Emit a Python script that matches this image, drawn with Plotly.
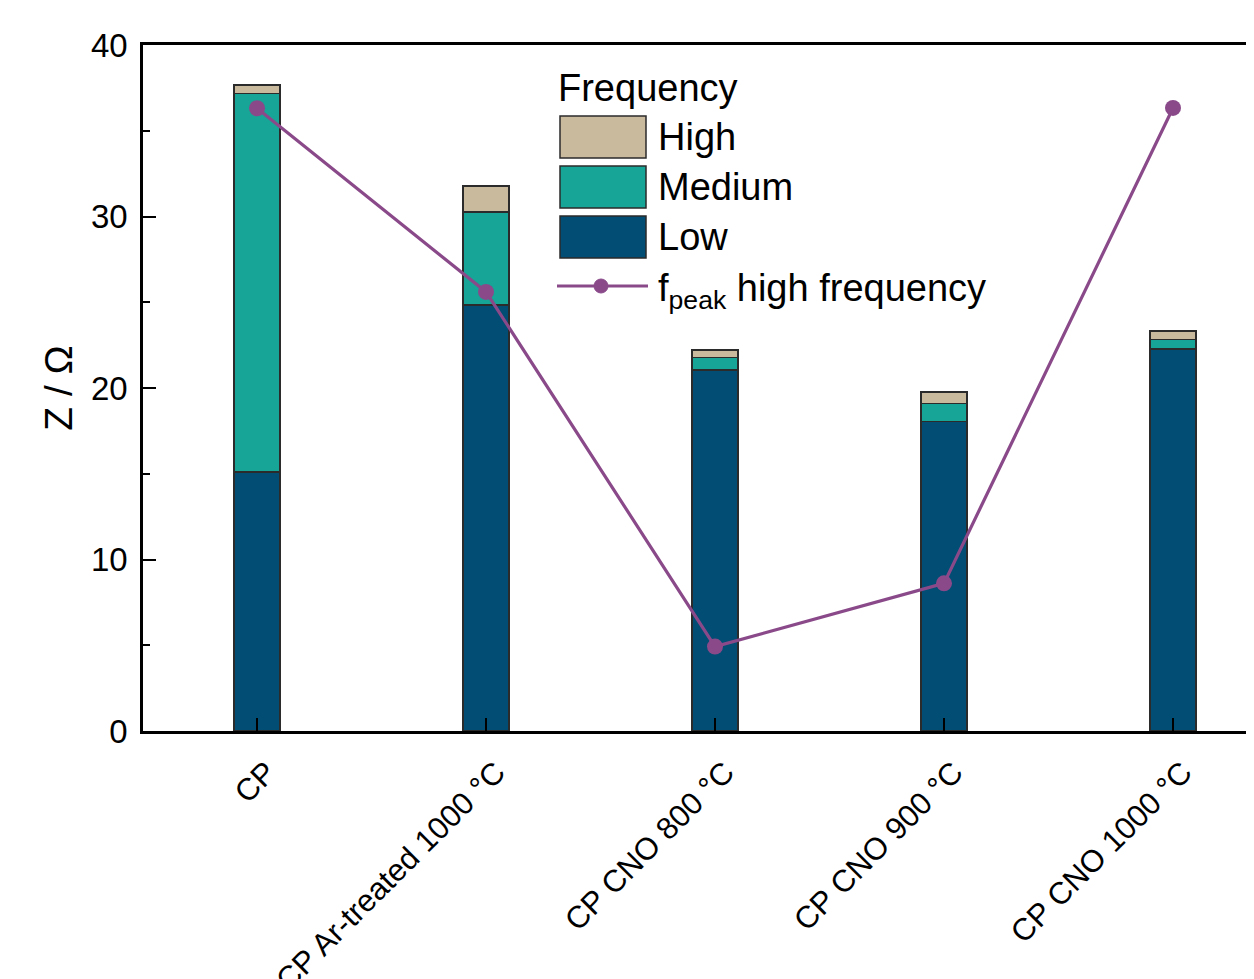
import plotly.graph_objects as go

categories = ["CP", "CP Ar-treated 1000 °C", "CP CNO 800 °C", "CP CNO 900 °C", "CP CNO 1000 °C"]
low = [15.1, 24.84, 21.05, 18.04, 22.27]
medium = [22.08, 5.42, 0.74, 1.07, 0.57]
high = [0.49, 1.52, 0.43, 0.67, 0.48]
fpeak = [36.31, 25.6, 4.92, 8.61, 36.33]
y_ticks = [0, 10, 20, 30, 40]

C_LOW = "#024D73"
C_MED = "#16A596"
C_HIGH = "#C9B99D"
C_LINE = "#8A4A8A"
EDGE = "#2b2b2b"
FONT = "Liberation Sans, Arial, sans-serif"

xpos = list(range(len(categories)))

fig = go.Figure()
for name, vals, col in [("Low", low, C_LOW), ("Medium", medium, C_MED), ("High", high, C_HIGH)]:
    fig.add_trace(go.Bar(x=xpos, y=vals, name=name, width=0.2,
                         marker=dict(color=col, line=dict(color=EDGE, width=1.5)),
                         showlegend=False))
fig.add_trace(go.Scatter(x=xpos, y=fpeak, mode="lines+markers", name="fpeak high frequency",
                         line=dict(color=C_LINE, width=3.2),
                         marker=dict(color=C_LINE, size=16), showlegend=False))

# plot area in screen pixels (page has an 8px body margin)
OFF = 8
FIG_W, FIG_H = 1254 - OFF, 979 - OFF
L, T, H = 143, 45, 686
W = FIG_W + OFF - L
def px(x):
    return (x - L) / W
def py(y):
    return (T + H - y) / H

shapes = []
annotations = []
LEG = 38
annotations.append(dict(x=px(556), y=py(88), xref="paper", yref="paper", text="Frequency",
                        showarrow=False, xanchor="left", yanchor="middle",
                        font=dict(size=LEG, color="black", family=FONT)))
for (label, col, y0, y1) in [("High", C_HIGH, 116, 158), ("Medium", C_MED, 166, 208), ("Low", C_LOW, 216, 258)]:
    shapes.append(dict(type="rect", xref="paper", yref="paper", x0=px(560), x1=px(646),
                       y0=py(y1), y1=py(y0), fillcolor=col, line=dict(color=EDGE, width=1.5)))
    annotations.append(dict(x=px(656), y=py((y0 + y1) / 2), xref="paper", yref="paper", text=label,
                            showarrow=False, xanchor="left", yanchor="middle",
                            font=dict(size=LEG, color="black", family=FONT)))
shapes.append(dict(type="line", xref="paper", yref="paper", x0=px(557), x1=px(648),
                   y0=py(286), y1=py(286), line=dict(color=C_LINE, width=3.2)))
shapes.append(dict(type="circle", xref="paper", yref="paper", x0=px(594), x1=px(608),
                   y0=py(293), y1=py(279), fillcolor=C_LINE, line=dict(color=C_LINE, width=1)))
annotations.append(dict(x=px(656), y=py(291), xref="paper", yref="paper",
                        text="f<sub>peak</sub> high frequency",
                        showarrow=False, xanchor="left", yanchor="middle",
                        font=dict(size=LEG, color="black", family=FONT)))

fig.update_layout(
    width=FIG_W, height=FIG_H,
    margin=dict(l=L - OFF, r=0, t=T - OFF, b=FIG_H - (T - OFF) - H, autoexpand=False),
    barmode="stack",
    plot_bgcolor="white", paper_bgcolor="white",
    font=dict(family=FONT, color="black"),
    shapes=shapes, annotations=annotations,
    showlegend=False,
)
x_right = (L + W - 257) / 229.0
fig.update_xaxes(range=[-0.498, x_right], tickmode="array", tickvals=xpos, ticktext=categories,
                 tickangle=-45, ticks="inside", ticklen=13, tickwidth=2, tickcolor="black",
                 showline=True, linecolor="black", linewidth=2.5, mirror=True,
                 showgrid=False, zeroline=False, automargin=False,
                 ticklabelstandoff=8, ticklabelshift=10,
                 tickfont=dict(size=31, family=FONT, color="black"))
fig.update_yaxes(range=[0, 40], tickmode="array", tickvals=y_ticks,
                 ticks="inside", ticklen=13, tickwidth=2, tickcolor="black",
                 minor=dict(ticks="inside", ticklen=7, tickwidth=2, tickcolor="black", dtick=5, tick0=0, showgrid=False),
                 showline=True, linecolor="black", linewidth=2.5, mirror=False,
                 showgrid=False, zeroline=False, automargin=False,
                 ticklabelstandoff=6,
                 tickfont=dict(size=33, family=FONT, color="black"),
                 title=dict(text="Z / Ω", font=dict(size=39, family=FONT, color="black"), standoff=7))

fig.write_html("out.html")
